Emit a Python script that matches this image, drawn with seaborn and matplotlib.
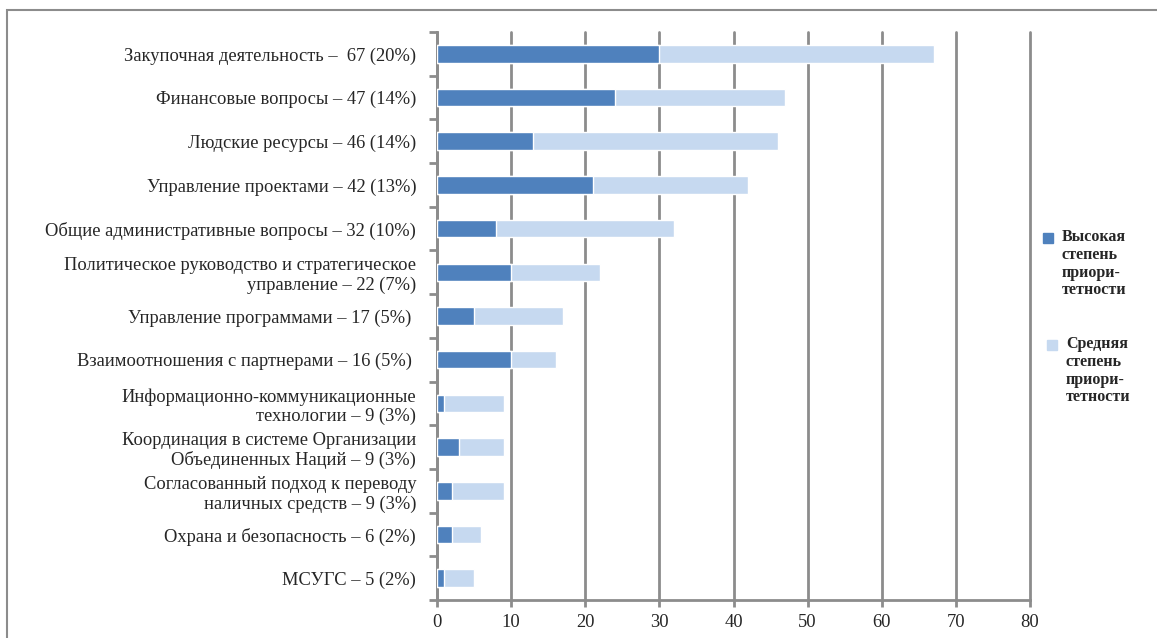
import matplotlib
matplotlib.use('Agg')
import matplotlib.pyplot as plt
import matplotlib.patches as mpatches
import numpy as np
import pandas as pd
import seaborn as sns

categories = ['Закупочная деятельность –  67 (20%)',
              'Финансовые вопросы – 47 (14%)',
              'Людские ресурсы – 46 (14%)',
              'Управление проектами – 42 (13%)',
              'Общие административные вопросы – 32 (10%)',
              'Политическое руководство и стратегическое\nуправление – 22 (7%)',
              'Управление программами – 17 (5%) ',
              'Взаимоотношения с партнерами – 16 (5%) ',
              'Информационно-коммуникационные\nтехнологии – 9 (3%)',
              'Координация в системе Организации\nОбъединенных Наций – 9 (3%)',
              'Согласованный подход к переводу\nналичных средств – 9 (3%)',
              'Охрана и безопасность – 6 (2%)',
              'МСУГС – 5 (2%)']
high = [30, 24, 13, 21, 8, 10, 5, 10, 1, 3, 2, 2, 1]
medium = [37, 23, 33, 21, 24, 12, 12, 6, 8, 6, 7, 4, 4]
legend_labels = ['Высокая\nстепень\nприори-\nтетности',
                 'Средняя\nстепень\nприори-\nтетности']
xticks = [0, 10, 20, 30, 40, 50, 60, 70, 80]

dark = '#4f81bd'
light = '#c6d9f0'
grid_c = '#8c8c8c'

sns.set_style('white')
plt.rcParams['font.family'] = ['Liberation Serif', 'DejaVu Serif']

df = pd.DataFrame({'cat': categories, 'high': high,
                   'total': np.array(high) + np.array(medium)})

fig = plt.figure(figsize=(11.57, 6.38), dpi=100)
ax = fig.add_axes([437 / 1157, 1 - 600 / 638, (1030 - 437) / 1157, (600 - 32) / 638])

sns.barplot(data=df, y='cat', x='total', color=light, width=0.4,
            orient='h', ax=ax, saturation=1, zorder=3)
sns.barplot(data=df, y='cat', x='high', color=dark, width=0.4,
            orient='h', ax=ax, saturation=1, zorder=4)

ax.set_xlim(0, 80)
ax.set_ylim(len(categories) - 0.5, -0.5)
ax.set_xticks(xticks)
ax.set_xlabel('')
ax.set_ylabel('')
ax.xaxis.grid(True, color=grid_c, linewidth=2, zorder=0)
for gl in ax.get_xgridlines():
    gl.set_clip_on(False)
ax.set_axisbelow(True)
for s in ['top', 'right']:
    ax.spines[s].set_visible(False)
for s in ['left', 'bottom']:
    ax.spines[s].set_color(grid_c)
    ax.spines[s].set_linewidth(2)

ax.tick_params(axis='y', which='major', left=False, length=0, labelsize=13.3, pad=15)
ax.tick_params(axis='x', bottom=True, length=5, width=2, color=grid_c, labelsize=13.3, pad=5, direction='out')
for lab in ax.get_yticklabels():
    lab.set_horizontalalignment('right')
    lab.set_multialignment('right')
ax.set_yticks(np.arange(-0.5, len(categories), 1), minor=True)
ax.tick_params(axis='y', which='minor', left=True, length=6, width=2, color=grid_c, direction='out')

# chart frame
fig.patches.append(mpatches.Rectangle((7 / 1157, -0.1), 1.2, 1 - 10 / 638 + 0.1,
                                      transform=fig.transFigure, fill=False,
                                      edgecolor='#8c8c8c', linewidth=1.5))

# legend
leg_pos = [(1043, 233), (1047, 340)]
for (px, py), lab, col in zip(leg_pos, legend_labels, [dark, light]):
    fig.patches.append(mpatches.Rectangle((px / 1157, 1 - (py + 10) / 638), 10 / 1157, 10 / 638,
                                          transform=fig.transFigure, color=col))
    fig.text((px + 19) / 1157, 1 - (py - 4) / 638, lab, fontsize=11.5, fontweight='bold',
             va='top', ha='left', linespacing=1.15)

fig.savefig('out.png', dpi=100)
